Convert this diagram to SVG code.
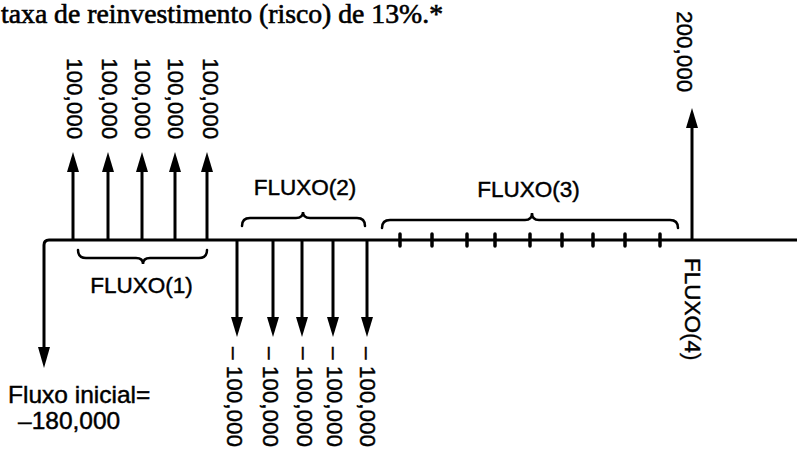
<svg xmlns="http://www.w3.org/2000/svg" width="797" height="450" viewBox="0 0 797 450">
<style>
.ln{stroke:#000;stroke-width:3;fill:none}
.br{stroke:#000;stroke-width:2.5;fill:none;stroke-linecap:round}
.tk{stroke:#000;stroke-width:3.5;stroke-linecap:round}
.ah{fill:#000}
.lb{font-family:"Liberation Sans",Arial,sans-serif;font-size:22.5px;fill:#000;stroke:#000;stroke-width:0.45}
.lg{font-family:"Liberation Sans",Arial,sans-serif;font-size:24.5px;fill:#000;stroke:#000;stroke-width:0.45}
.tt{font-family:"Liberation Serif","Times New Roman",serif;font-size:27px;fill:#000;stroke:#000;stroke-width:0.6}
</style>
<rect width="797" height="450" fill="#fff"/>
<text class="tt" x="1" y="23" textLength="442" lengthAdjust="spacingAndGlyphs">taxa de reinvestimento (risco) de 13%.*</text>

<g id="connectors">
  <path class="ln" d="M797,240 L49,240 Q44,240 44,245 L44,350"/>
  <polygon class="ah" points="38,347 50,347 44,368"/>
  <line class="ln" x1="73" y1="240" x2="73" y2="170"/>
  <line class="ln" x1="108" y1="240" x2="108" y2="170"/>
  <line class="ln" x1="142" y1="240" x2="142" y2="170"/>
  <line class="ln" x1="175" y1="240" x2="175" y2="170"/>
  <line class="ln" x1="207" y1="240" x2="207" y2="170"/>
  <polygon class="ah" points="67,172 79,172 73,152"/>
  <polygon class="ah" points="102,172 114,172 108,152"/>
  <polygon class="ah" points="136,172 148,172 142,152"/>
  <polygon class="ah" points="169,172 181,172 175,152"/>
  <polygon class="ah" points="201,172 213,172 207,152"/>
  <line class="ln" x1="237" y1="240" x2="237" y2="320"/>
  <line class="ln" x1="273" y1="240" x2="273" y2="320"/>
  <line class="ln" x1="302" y1="240" x2="302" y2="320"/>
  <line class="ln" x1="333" y1="240" x2="333" y2="320"/>
  <line class="ln" x1="367" y1="240" x2="367" y2="320"/>
  <polygon class="ah" points="231,317 243,317 237,337"/>
  <polygon class="ah" points="267,317 279,317 273,337"/>
  <polygon class="ah" points="296,317 308,317 302,337"/>
  <polygon class="ah" points="327,317 339,317 333,337"/>
  <polygon class="ah" points="361,317 373,317 367,337"/>
  <line class="tk" x1="400" y1="234" x2="400" y2="246"/>
  <line class="tk" x1="432" y1="234" x2="432" y2="246"/>
  <line class="tk" x1="467" y1="234" x2="467" y2="246"/>
  <line class="tk" x1="495" y1="234" x2="495" y2="246"/>
  <line class="tk" x1="530" y1="234" x2="530" y2="246"/>
  <line class="tk" x1="562" y1="234" x2="562" y2="246"/>
  <line class="tk" x1="593" y1="234" x2="593" y2="246"/>
  <line class="tk" x1="625" y1="234" x2="625" y2="246"/>
  <line class="tk" x1="660" y1="234" x2="660" y2="246"/>
  <line class="ln" x1="692" y1="240" x2="692" y2="126"/>
  <polygon class="ah" points="686,128 698,128 692,108"/>
</g>

<g id="brace1">
  <path class="br" d="M78,250 Q78,258 86,258 L136,258 Q143,258 143,264 Q143,258 150,258 L199,258 Q207,258 207,250"/>
  <text class="lb" x="141.5" y="293" text-anchor="middle">FLUXO(1)</text>
</g>
<g id="brace2">
  <path class="br" d="M242,226 Q242,218 250,218 L296,218 Q303,218 303,212 Q303,218 310,218 L357,218 Q365,218 365,226"/>
  <text class="lb" x="305" y="195" text-anchor="middle">FLUXO(2)</text>
</g>
<g id="brace3">
  <path class="br" d="M382,228 Q382,220 390,220 L525,220 Q532,220 532,213 Q532,220 539,220 L670,220 Q678,220 678,228"/>
  <text class="lb" x="528.5" y="197" text-anchor="middle">FLUXO(3)</text>
</g>
<g id="fluxo4">
  <text class="lb" transform="translate(685,258) rotate(90)">FLUXO(4)</text>
  <text class="lb" transform="translate(677,11) rotate(90)">200,000</text>
</g>

<g id="up-labels">
  <text class="lb" transform="translate(67,58) rotate(90)">100,000</text>
  <text class="lb" transform="translate(102,58) rotate(90)">100,000</text>
  <text class="lb" transform="translate(135,58) rotate(90)">100,000</text>
  <text class="lb" transform="translate(168,58) rotate(90)">100,000</text>
  <text class="lb" transform="translate(203,58) rotate(90)">100,000</text>
</g>
<g id="down-labels">
  <text class="lb" transform="translate(227,347) rotate(90)">– 100,000</text>
  <text class="lb" transform="translate(263,347) rotate(90)">– 100,000</text>
  <text class="lb" transform="translate(297,347) rotate(90)">– 100,000</text>
  <text class="lb" transform="translate(327,347) rotate(90)">– 100,000</text>
  <text class="lb" transform="translate(360,347) rotate(90)">– 100,000</text>
</g>
<g id="initial">
  <text class="lg" x="8" y="403">Fluxo inicial=</text>
  <text class="lg" x="18" y="429">–180,000</text>
</g>
</svg>
